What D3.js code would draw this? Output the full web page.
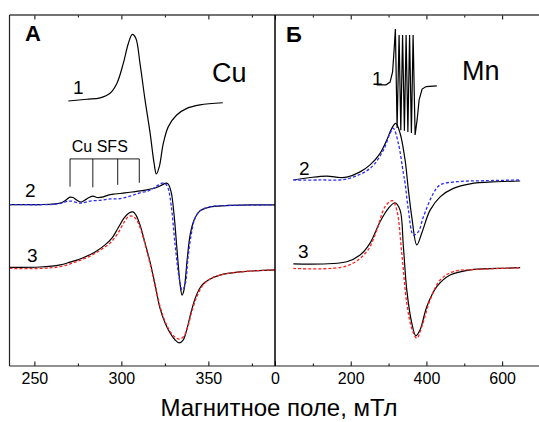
<!DOCTYPE html>
<html>
<head>
<meta charset="utf-8">
<script src="https://cdn.jsdelivr.net/npm/d3@7"></script>
<style>
  body { margin: 0; background: #fff; }
  text { font-family: "Liberation Sans", Arial, sans-serif; fill: #000; }
</style>
</head>
<body>
<svg id="chart" width="539" height="422"></svg>
<script>
// --- data: [field, mT ; signal, a.u.] ---

// panel A (Cu)
const cu1 = [[269.5,75.5],[280.1,76.0],[287.8,76.4],[293.5,77.7],[297.4,80.5],[301.1,86.2],[304.0,91.9],[306.3,94.5],
  [308.3,93.4],[310.7,86.2],[313.6,75.8],[316.5,66.4],[318.8,57.8],[320.1,54.7],[321.8,56.8],[324.1,63.4],[327.0,68.2],
  [331.8,71.5],[337.6,73.4],[345.2,74.4],[358.3,75.0]];
const cu2 = [[235.7,46.0],[253.3,46.0],[261.9,46.2],[265.9,46.6],[268.2,47.3],[270.5,48.1],[272.2,48.0],[274.5,47.2],
  [276.8,46.7],[279.1,47.3],[281.4,48.0],[283.7,48.4],[286.0,48.0],[288.9,48.1],[292.4,48.7],[296.4,49.0],[302.1,49.3],
  [307.9,49.7],[313.6,50.1],[319.4,50.7],[323.4,51.6],[325.7,52.1],[326.8,51.9],[328.6,49.6],[330.3,43.0],[332.0,33.0],
  [333.7,23.6],[334.9,20.2],[336.0,21.7],[337.8,30.2],[339.5,37.3],[341.8,41.6],[345.2,44.2],[351.0,45.3],[359.6,45.7],
  [374.0,45.9],[388.3,45.9]];
const cu2fit = [[235.7,46.0],[259.0,46.0],[264.8,46.3],[270.5,47.0],[276.3,46.4],[282.0,47.0],[287.8,47.2],[293.5,47.6],
  [299.3,47.7],[305.0,48.4],[310.7,49.3],[316.5,50.1],[320.5,51.3],[323.4,52.1],[325.1,52.0],[326.8,50.7],[328.6,45.9],
  [330.9,34.5],[333.2,25.1],[334.9,21.7],[336.6,23.1],[338.3,30.8],[340.1,37.3],[342.4,42.2],[345.2,44.2],[351.0,45.4],
  [359.6,45.7],[388.3,45.9]];
const cu3 = [[235.7,28.1],[253.3,28.2],[264.8,28.8],[270.5,29.6],[276.3,30.5],[284.9,32.5],[290.6,34.5],[294.7,36.5],
  [298.1,39.3],[301.6,42.2],[304.4,43.6],[306.7,43.9],[308.4,43.0],[310.7,40.2],[313.6,35.0],[316.5,29.6],[319.4,23.1],
  [322.2,16.5],[325.1,12.3],[328.0,9.4],[330.9,7.4],[333.2,6.6],[335.5,7.4],[337.8,10.8],[340.1,15.4],[342.9,19.9],
  [346.4,23.1],[351.0,24.8],[356.7,25.9],[368.2,26.8],[388.3,27.4]];
const cu3fit = [[235.7,27.8],[253.3,27.8],[264.8,28.3],[273.4,29.6],[282.0,31.3],[287.8,33.0],[293.5,35.0],[298.1,37.9],
  [301.6,41.0],[303.9,42.5],[306.1,42.7],[308.4,41.9],[311.3,38.7],[314.2,33.6],[317.1,27.9],[319.9,21.7],[322.8,16.0],
  [325.7,12.0],[328.6,9.4],[331.4,8.0],[333.7,7.7],[336.0,8.5],[338.3,11.4],[340.6,15.7],[343.5,19.9],[347.0,23.1],
  [351.0,24.8],[356.7,25.9],[368.2,26.8],[388.3,27.4]];
// Cu superfine structure marks
const sfsField = [270.5, 283.6, 297.9, 310.3];
const sfsBottom = [51.1, 50.9, 51.6, 52.2];
const sfsTop = 59.0;

// panel Б (Mn)
const mn1 = [[268.8,80.1],[293.4,80.1],[304.0,80.9],[310.6,83.8],[314.6,90.0],[318.0,96.0],[322.5,67.8],[327.8,94.3],
  [332.3,67.2],[337.0,94.3],[341.8,67.0],[346.3,94.3],[351.0,66.7],[355.5,94.3],[360.3,66.4],[364.8,94.3],[370.1,65.8],
  [375.4,70.1],[380.7,75.8],[388.6,78.9],[399.2,79.6],[427.4,79.8]];
const mn2 = [[48.4,53.0],[92.5,53.7],[136.7,54.1],[171.8,53.7],[189.5,53.8],[224.7,55.3],[251.1,57.3],[277.6,60.6],
  [295.3,64.4],[308.5,67.7],[319.1,69.1],[330.4,66.3],[343.6,58.7],[352.4,50.1],[361.3,42.5],[374.6,34.5],[387.8,37.9],
  [409.7,44.4],[436.2,48.2],[471.3,50.6],[515.5,51.9],[586.0,52.5],[647.6,52.7]];
const mn2fit = [[48.4,53.0],[119.0,53.0],[189.5,53.3],[251.1,56.3],[286.3,61.5],[304.0,66.3],[312.7,67.7],[325.9,63.4],
  [339.1,54.9],[343.6,52.1],[352.4,44.4],[365.6,37.3],[378.8,38.3],[392.0,42.5],[418.4,49.2],[436.2,51.6],[480.3,52.5],
  [559.6,52.8],[647.6,53.0]];
const mn3 = [[48.4,29.1],[189.5,29.7],[224.7,31.6],[251.1,35.0],[277.6,41.1],[299.5,44.9],[317.2,46.5],[330.4,44.4],
  [339.1,34.0],[348.1,21.7],[361.3,12.2],[371.9,8.6],[383.3,10.3],[401.0,16.9],[427.4,22.6],[462.6,25.9],[515.5,27.4],
  [586.0,27.8],[647.6,28.0]];
const mn3fit = [[48.4,27.8],[189.5,28.5],[242.4,32.6],[268.8,38.7],[290.8,45.4],[310.1,47.1],[321.7,44.4],[334.9,32.1],
  [348.1,17.9],[361.3,10.7],[374.6,7.9],[387.8,11.2],[409.7,18.8],[436.2,24.5],[471.3,26.9],[533.2,27.5],[647.6,28.0]];

// ticks
const leftMajor = [250, 300, 350];
const leftMinor = [275, 325, 375];
const rightMajor = [0, 200, 400, 600];
const rightMinor = [100, 300, 500, 700];

const svg = d3.select("#chart");
const yTop = 15, yBot = 366, xLeft = 9.5, xMid = 275, xRight = 540;

const xL = d3.scaleLinear().domain([235.7, 388.3]).range([xLeft, xMid]);
const xR = d3.scaleLinear().domain([0, 700]).range([xMid, xRight]);
const y = d3.scaleLinear().domain([0, 100]).range([yBot, yTop]);

function draw(data, x, color, dash, curve) {
  const line = d3.line().x(d => x(d[0])).y(d => y(d[1]))
    .curve(curve || d3.curveCatmullRom.alpha(0.5));
  svg.append("path").datum(data)
    .attr("d", line)
    .attr("fill", "none")
    .attr("stroke", color)
    .attr("stroke-width", dash ? 1.3 : 1.2)
    .attr("stroke-dasharray", dash ? "3,2" : null);
}

// curves
draw(cu1, xL, "#000");
draw(cu2, xL, "#000");
draw(cu2fit, xL, "#2b2bff", true);
draw(cu3, xL, "#000");
draw(cu3fit, xL, "#ff2020", true);

draw(mn1, xR, "#000", false, d3.curveLinear);
draw(mn2, xR, "#000");
draw(mn2fit, xR, "#2b2bff", true);
draw(mn3, xR, "#000");
draw(mn3fit, xR, "#ff2020", true);

// SFS bracket
const sfs = svg.append("g").attr("stroke", "#000").attr("stroke-width", 0.9);
sfs.append("line")
  .attr("x1", xL(sfsField[0])).attr("x2", xL(sfsField[sfsField.length - 1]))
  .attr("y1", y(sfsTop)).attr("y2", y(sfsTop));
sfsField.forEach((f, i) => {
  sfs.append("line").attr("x1", xL(f)).attr("x2", xL(f))
    .attr("y1", y(sfsTop)).attr("y2", y(sfsBottom[i]));
});
svg.append("text").attr("x", xL(271.5)).attr("y", y(61)).attr("font-size", 16).text("Cu SFS");

// axes
function axis(x, major, minor) {
  svg.append("g").attr("transform", `translate(0,${yBot})`)
    .call(d3.axisBottom(x).tickValues(major).tickSize(-4.5).tickPadding(7).tickFormat(d3.format("d")))
    .call(g => g.select(".domain").remove())
    .call(g => g.selectAll("text").attr("font-size", 16).attr("font-family", null));
  svg.append("g").attr("transform", `translate(0,${yBot})`)
    .call(d3.axisBottom(x).tickValues(minor).tickSize(-2.5).tickFormat(""))
    .call(g => g.select(".domain").remove());
  svg.append("g").attr("transform", `translate(0,${yTop})`)
    .call(d3.axisTop(x).tickValues(major).tickSize(-4.5).tickFormat(""))
    .call(g => g.select(".domain").remove());
  svg.append("g").attr("transform", `translate(0,${yTop})`)
    .call(d3.axisTop(x).tickValues(minor).tickSize(-2.5).tickFormat(""))
    .call(g => g.select(".domain").remove());
}
axis(xL, leftMajor, leftMinor);
axis(xR, rightMajor, rightMinor);

// frame
svg.append("line").attr("x1", xLeft).attr("x2", xRight).attr("y1", yTop).attr("y2", yTop)
  .attr("stroke", "#444").attr("stroke-width", 1.3);
svg.append("line").attr("x1", xLeft).attr("x2", xRight).attr("y1", yBot).attr("y2", yBot)
  .attr("stroke", "#222").attr("stroke-width", 1.2);
svg.append("line").attr("x1", xLeft).attr("x2", xLeft).attr("y1", yTop).attr("y2", yBot)
  .attr("stroke", "#222").attr("stroke-width", 1.2);
svg.append("line").attr("x1", xMid).attr("x2", xMid).attr("y1", yTop).attr("y2", yBot)
  .attr("stroke", "#000").attr("stroke-width", 1.5);

// labels
function label(x, yv, txt, size, bold) {
  svg.append("text").attr("x", x).attr("y", yv).attr("font-size", size)
    .attr("font-weight", bold ? "bold" : null).text(txt);
}
label(25, 41, "А", 22, true);
label(286, 42, "Б", 22, true);
label(212, 82, "Cu", 27);
label(462, 80, "Mn", 27);
label(73, 94, "1", 19);
label(25, 197, "2", 19);
label(27, 262, "3", 19);
label(372, 85, "1", 19);
label(299, 175, "2", 19);
label(298, 258, "3", 19);

svg.append("text").attr("x", 279).attr("y", 416).attr("text-anchor", "middle")
  .attr("font-size", 24).text("Магнитное поле, мТл");
</script>
</body>
</html>
